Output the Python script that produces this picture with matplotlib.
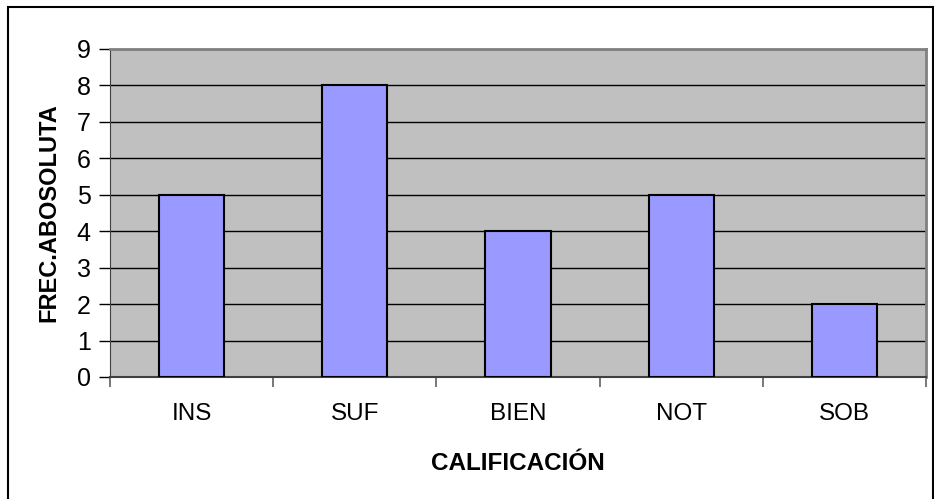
import numpy as np
import matplotlib.pyplot as plt
from matplotlib.patches import Rectangle

plt.rcParams['font.family'] = ['Liberation Sans', 'DejaVu Sans']

categorias = ['INS', 'SUF', 'BIEN', 'NOT', 'SOB']
frecuencias = [5, 8, 4, 5, 2]

fig = plt.figure(figsize=(9.34, 4.99), dpi=100)
# borde exterior del grafico (el borde inferior queda fuera de la imagen)
fig.patches.append(Rectangle((8 / 934, -10 / 499), 925 / 934, 502 / 499,
                             transform=fig.transFigure, fill=False,
                             edgecolor='black', linewidth=1.5))

ax = fig.add_axes([110 / 934, 1 - 377 / 499, 816 / 934, 328 / 499])
ax.set_facecolor('#C0C0C0')

x = np.arange(len(categorias))
ax.bar(x, frecuencias, width=0.4, color='#9999FF', edgecolor='black',
       linewidth=1.5, zorder=3)

ax.set_xlim(-0.5, len(categorias) - 0.5)
ax.set_ylim(0, 9)
ax.set_yticks(range(0, 10))
ax.yaxis.grid(True, color='black', linewidth=1)
ax.set_axisbelow(True)

# ticks entre categorias, etiquetas centradas
ax.set_xticks(np.arange(-0.5, len(categorias), 1))
ax.set_xticklabels([])
ax.set_xticks(x, minor=True)
ax.set_xticklabels(categorias, minor=True)
ax.tick_params(axis='x', which='minor', length=0, pad=19, labelsize=17.5)
ax.tick_params(axis='x', which='major', length=7, width=1.2, color='#606060')
ax.tick_params(axis='y', length=8, width=1, labelsize=18, pad=6)

for s in ['top', 'right']:
    ax.spines[s].set_color('#808080')
    ax.spines[s].set_linewidth(2)
ax.spines['left'].set_color('#404040')
ax.spines['bottom'].set_color('#404040')
ax.spines['bottom'].set_linewidth(1.5)

ax.set_xlabel('CALIFICACIÓN', fontsize=17.5, fontweight='bold', labelpad=19)
ax.set_ylabel('FREC.ABOSOLUTA', fontsize=17, fontweight='bold', labelpad=12)

plt.savefig('out.png', dpi=100)
